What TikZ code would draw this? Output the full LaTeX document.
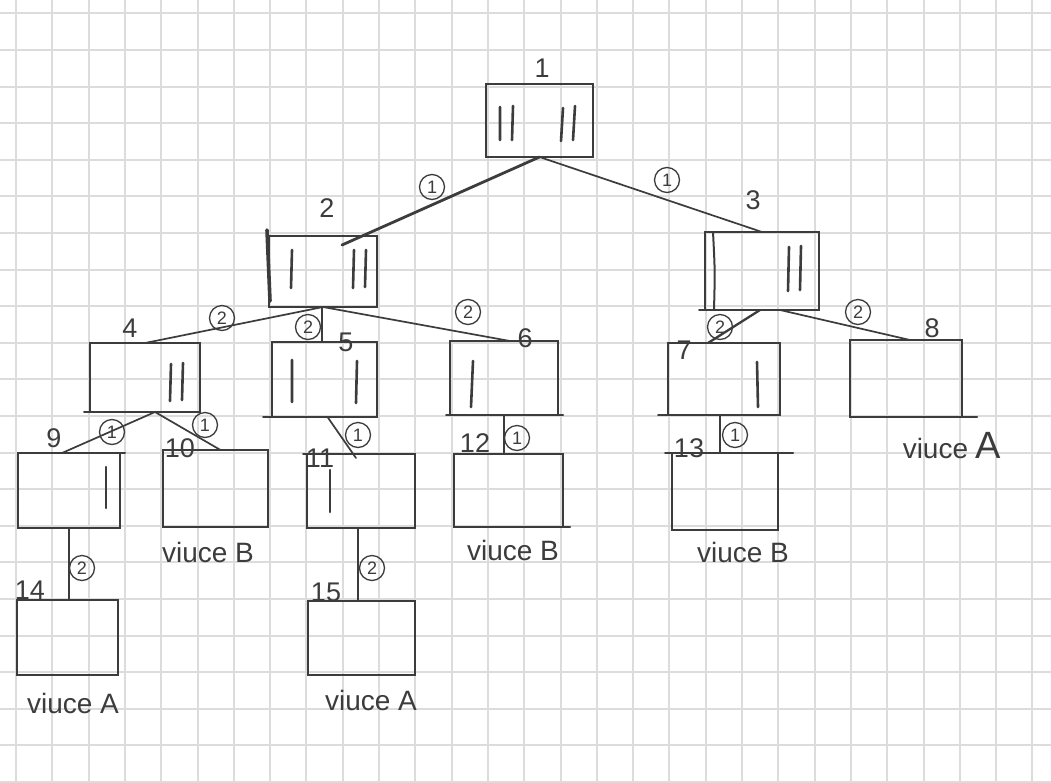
\documentclass[tikz,border=0pt]{standalone}
\usepackage{fontspec}
\setmainfont{Liberation Sans}
\usetikzlibrary{calc}
\definecolor{pen}{RGB}{60,60,60}
\definecolor{gridline}{RGB}{220,220,220}
\begin{document}
\begin{tikzpicture}[x=1pt,y=-1pt,
  box/.style={draw=pen, line width=2.2pt, inner sep=0pt, outer sep=0pt},
  tally/.style={draw=pen, line width=2.6pt, line cap=round},
  edge/.style={draw=pen, line width=1.7pt, line cap=round},
  extra/.style={draw=pen, line width=2pt, line cap=round},
  circ/.style={circle, draw=pen, line width=1.3pt, minimum size=25pt, inner sep=0pt,
    text=pen, font=\fontsize{18}{18}\selectfont},
  num/.style={text=pen, inner sep=0pt, font=\fontsize{27}{27}\selectfont},
  result/.style={text=pen, inner sep=0pt, font=\fontsize{28}{28}\selectfont}]
\useasboundingbox (0,0) rectangle (1051,782);
\fill[white] (0,0) rectangle (1051,782);

% squared paper
\foreach \k in {0,...,28}
  \draw[gridline, line width=2pt] ({round(16+36.3*\k)},0) -- ({round(16+36.3*\k)},782);
\foreach \k in {0,...,21}
  \draw[gridline, line width=2pt] (0,{round(13.3+36.6*\k)}) -- (1051,{round(13.3+36.6*\k)});

% positions of the game
\node[box, minimum width=107pt, minimum height=73pt] (b1)  at (539.5,120.5) {};
\node[box, minimum width=108pt, minimum height=71pt] (b2)  at (323,271.5) {};
\node[box, minimum width=114pt, minimum height=78pt] (b3)  at (762,271) {};
\node[box, minimum width=110pt, minimum height=69pt] (b4)  at (145,377.5) {};
\node[box, minimum width=105pt, minimum height=75pt] (b5)  at (324.5,379.5) {};
\node[box, minimum width=108pt, minimum height=74pt] (b6)  at (504,378) {};
\node[box, minimum width=112pt, minimum height=72pt] (b7)  at (724,379) {};
\node[box, minimum width=112pt, minimum height=77pt] (b8)  at (906,378.5) {};
\node[box, minimum width=102pt, minimum height=75pt] (b9)  at (69,490.5) {};
\node[box, minimum width=105pt, minimum height=77pt] (b10) at (215.5,488.5) {};
\node[box, minimum width=108pt, minimum height=74pt] (b11) at (361,491) {};
\node[box, minimum width=109pt, minimum height=73pt] (b12) at (508.5,490.5) {};
\node[box, minimum width=106pt, minimum height=77pt] (b13) at (725,491.5) {};
\node[box, minimum width=101pt, minimum height=75pt] (b14) at (67.5,637.5) {};
\node[box, minimum width=107pt, minimum height=74pt] (b15) at (361.5,638) {};

% overdrawn box edges
\draw[extra, line width=3.6pt] ([shift={(-2,-6)}]b2.north west) -- ([shift={(1,-6)}]b2.south west);
\draw[extra] ([xshift=8]b3.north west) .. controls ([xshift=10]b3.west) .. ([xshift=9]b3.south west);
\draw[extra] ([xshift=-6]b3.south west) -- (b3.south west);
\draw[extra] ([xshift=-6]b4.south west) -- (b4.south west);
\draw[extra] ([xshift=-9]b5.south west) -- (b5.south west);
\draw[extra] ([xshift=-4]b6.south west) -- ([xshift=5]b6.south east);
\draw[extra] ([xshift=-10]b7.south west) -- (b7.south west);
\draw[extra] (b8.south east) -- ([xshift=15]b8.south east);
\draw[extra] ([xshift=5]b9.north east) -- (b9.north east);
\draw[extra] ([xshift=-4]b11.north west) -- (b11.north west);
\draw[extra] (b12.south east) -- ([xshift=7]b12.south east);
\draw[extra] ([xshift=-7]b13.north west) -- (b13.north west);
\draw[extra] (b13.north east) -- ([xshift=15]b13.north east);

% tallies: remaining matches of each heap
\draw[tally] (500,107) -- (500,140) (513,106) -- (512,140)
             (563,108) -- (561,141) (575,106) -- (573,140);
\draw[tally] (292,250) -- (291,288) (354,250) -- (353,288) (366,250) -- (365,287);
\draw[tally] (789,247) -- (788,291) (801,246) -- (800,290);
\draw[tally] (171,364) -- (170,401) (183,363) -- (182,400);
\draw[tally] (292,360) -- (292,402) (357,361) -- (356,403);
\draw[tally] (473,361) -- (471,407);
\draw[tally] (757,362) -- (758,407);
\draw[tally] (106,467) -- (106,508);
\draw[tally] (330,470) -- (330,512);

% position numbers
\node[num] (n1)  at (542,68)  {1};
\node[num] (n2)  at (327,208) {2};
\node[num] (n3)  at (753,200) {3};
\node[num] (n4)  at (130,328) {4};
\node[num] (n5)  at (346,342) {5};
\node[num] (n6)  at (525,338) {6};
\node[num] (n7)  at (684,350) {7};
\node[num] (n8)  at (932,328) {8};
\node[num] (n9)  at (54,438)  {9};
\node[num] (n10) at (180,448) {10};
\node[num] (n11) at (320,458) {11};
\node[num] (n12) at (475,443) {12};
\node[num] (n13) at (689,448) {13};
\node[num] (n14) at (30,590)  {14};
\node[num] (n15) at (326,592) {15};

% moves
\coordinate (s4)  at ([xshift=10]b4.south);
\coordinate (s25) at ([xshift=-1]b2.south);
\coordinate (s713) at ([xshift=-4]b7.south);
\coordinate (s1115) at ([xshift=-3]b11.south);
\draw[edge, line width=2.8pt] (b1.south) -- ([shift={(19,9)}]b2.north);
\draw[edge] (b1.south) -- (b3.north);
\draw[edge] (b2.south) -- (b4.north);
\draw[edge] (s25) -- (s25 |- b5.north);
\draw[edge] (b2.south) -- ([xshift=6]b6.north);
\draw[edge, line width=2.3pt] ([xshift=-2]b3.south) -- ([xshift=-16]b7.north);
\draw[edge] ([xshift=18]b3.south) -- ([xshift=4]b8.north);
\draw[edge] (s4) -- ([xshift=-7]b9.north);
\draw[edge] (s4) -- ([xshift=5]b10.north);
\draw[edge] ([xshift=3]b5.south) -- ([shift={(-5,4)}]b11.north);
\draw[edge] (b6.south) -- (b6.south |- b12.north);
\draw[edge] (s713) -- (s713 |- b13.north);
\draw[edge] (b9.south) -- (b9.south |- b14.north);
\draw[edge] (s1115) -- (s1115 |- b15.north);

% player on move
\node[circ] (c12)   at (432,187) {1};
\node[circ] (c13)   at (667,180) {1};
\node[circ] (c24)   at (222,318) {2};
\node[circ] (c25)   at (308,327) {2};
\node[circ] (c26)   at (468,312) {2};
\node[circ] (c37)   at (720,327) {2};
\node[circ] (c38)   at (858,312) {2};
\node[circ] (c49)   at (112,432) {1};
\node[circ] (c410)  at (205,425) {1};
\node[circ] (c511)  at (358,435) {1};
\node[circ] (c612)  at (517,438) {1};
\node[circ] (c713)  at (735,435) {1};
\node[circ] (c914)  at (82,568)  {2};
\node[circ] (c1115) at (372,568) {2};

% outcomes
\node[result] (r8)  at (952,446) {viuce {\fontsize{38}{38}\selectfont A}};
\node[result] (r10) at (208,552) {viuce B};
\node[result] (r12) at (513,550) {viuce B};
\node[result] (r13) at (743,552) {viuce B};
\node[result] (r14) at (73,703)  {viuce A};
\node[result] (r15) at (371,700) {viuce A};
\end{tikzpicture}
\end{document}
